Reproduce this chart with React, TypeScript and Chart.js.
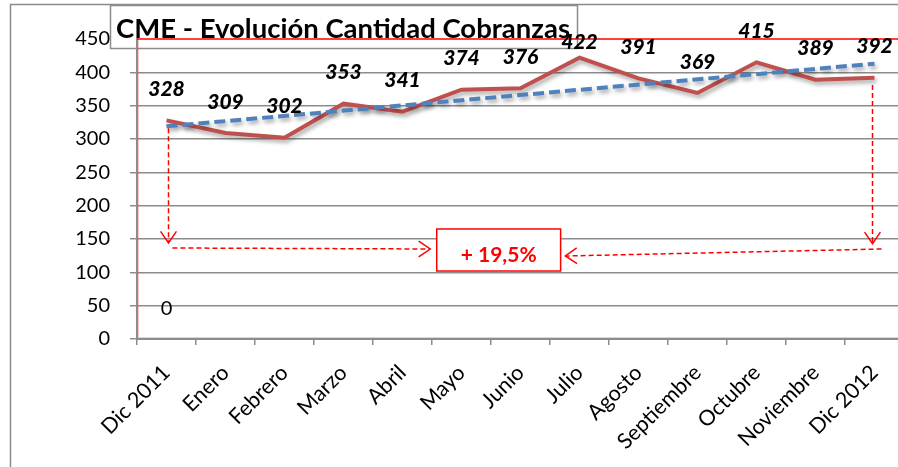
import React, { useEffect, useRef } from "react";
import { Chart, registerables } from "chart.js";
Chart.register(...registerables);

const categories = ["Dic 2011", "Enero", "Febrero", "Marzo", "Abril", "Mayo", "Junio", "Julio", "Agosto", "Septiembre", "Octubre", "Noviembre", "Dic 2012"];
const cobranzas = [328, 309, 302, 353, 341, 374, 376, 422, 391, 369, 415, 389, 392];
const tendencia = [319, null, null, null, null, null, null, null, null, null, null, null, 413];
const yTicks = [0, 50, 100, 150, 200, 250, 300, 350, 400, 450];
const titleText = "CME - Evolución Cantidad Cobranzas";
const growthLabel = "+ 19,5%";
const zeroLabel = "0";

const W = 915;
const H = 467;
const FONT = "Lato, 'Open Sans', sans-serif";
const GRAY = "#8c8c8c";
const RED = "#ff0000";

function arrow(ctx: CanvasRenderingContext2D, x1: number, y1: number, x2: number, y2: number) {
  ctx.save();
  ctx.strokeStyle = RED;
  ctx.lineWidth = 1.5;
  ctx.setLineDash([5, 3]);
  ctx.beginPath();
  ctx.moveTo(x1, y1);
  ctx.lineTo(x2, y2);
  ctx.stroke();
  ctx.setLineDash([]);
  const a = Math.atan2(y2 - y1, x2 - x1);
  const len = 14;
  const spread = 0.6;
  ctx.beginPath();
  ctx.moveTo(x2 - len * Math.cos(a - spread), y2 - len * Math.sin(a - spread));
  ctx.lineTo(x2, y2);
  ctx.lineTo(x2 - len * Math.cos(a + spread), y2 - len * Math.sin(a + spread));
  ctx.stroke();
  ctx.restore();
}

const decor = {
  id: "decor",
  beforeDraw(chart: any) {
    const ctx = chart.ctx as CanvasRenderingContext2D;
    ctx.save();
    ctx.fillStyle = "#fff";
    ctx.fillRect(0, 0, W, H);
    ctx.strokeStyle = GRAY;
    ctx.lineWidth = 1.5;
    ctx.strokeRect(10.5, 4.5, W + 20, H + 20);
    ctx.fillStyle = "#fff";
    ctx.fillRect(110.5, 5.5, 467, 43);
    ctx.strokeRect(110.5, 5.5, 467, 43);
    ctx.font = `bold 27.5px ${FONT}`;
    ctx.fillStyle = "#000";
    ctx.textAlign = "center";
    ctx.textBaseline = "alphabetic";
    ctx.fillText(titleText, 343, 38);
    ctx.restore();
  },
  beforeDatasetDraw(chart: any) {
    const ctx = chart.ctx as CanvasRenderingContext2D;
    ctx.save();
    ctx.shadowColor = "rgba(0,0,0,0.35)";
    ctx.shadowBlur = 4;
    ctx.shadowOffsetX = 2;
    ctx.shadowOffsetY = 3;
  },
  afterDatasetDraw(chart: any) {
    chart.ctx.restore();
  },
  afterDraw(chart: any) {
    const ctx = chart.ctx as CanvasRenderingContext2D;
    const { left, right, top, bottom } = chart.chartArea;
    const xs = chart.scales.x;
    const ys = chart.scales.y;
    ctx.save();
    // plot area border (red)
    ctx.strokeStyle = RED;
    ctx.lineWidth = 1.5;
    ctx.beginPath();
    ctx.moveTo(left, top);
    ctx.lineTo(right + 20, top);
    ctx.stroke();
    ctx.strokeStyle = "rgba(255,0,0,0.22)";
    ctx.lineWidth = 1;
    ctx.beginPath();
    ctx.moveTo(left + 1.5, top);
    ctx.lineTo(left + 1.5, bottom - 1.5);
    ctx.lineTo(right + 20, bottom - 1.5);
    ctx.stroke();

    // data labels
    ctx.fillStyle = "#000";
    ctx.font = `italic 900 21px ${FONT}`;
    ctx.textAlign = "center";
    ctx.textBaseline = "middle";
    cobranzas.forEach((v, i) => {
      const px = xs.getPixelForValue(i);
      const py = ys.getPixelForValue(v);
      const lift = i === 7 ? 15 : 31;
      ctx.fillText(String(v), px, py - lift);
    });

    // zero label
    ctx.font = `20px ${FONT}`;
    ctx.fillText(zeroLabel, xs.getPixelForValue(0), ys.getPixelForValue(46));

    // arrows
    const first = 0;
    const last = cobranzas.length - 1;
    const xf = xs.getPixelForValue(first) + 2;
    const xl = xs.getPixelForValue(last) - 2;
    arrow(ctx, xf, ys.getPixelForValue(316), xf, ys.getPixelForValue(144));
    arrow(ctx, xl, ys.getPixelForValue(381), xl, ys.getPixelForValue(143));
    const cw = xs.getPixelForValue(1) - xs.getPixelForValue(0);
    const x0 = xs.getPixelForValue(0);
    arrow(ctx, x0 + 0.1 * cw, ys.getPixelForValue(136.5), x0 + 4.47 * cw, ys.getPixelForValue(135));
    arrow(ctx, x0 + 12.12 * cw, ys.getPixelForValue(135), x0 + 6.76 * cw, ys.getPixelForValue(124.5));

    // growth box
    const bx1 = x0 + 4.58 * cw;
    const bx2 = x0 + 6.68 * cw;
    const by1 = ys.getPixelForValue(165);
    const by2 = ys.getPixelForValue(102);
    ctx.strokeStyle = RED;
    ctx.lineWidth = 1.5;
    ctx.fillStyle = "#fff";
    ctx.fillRect(bx1, by1, bx2 - bx1, by2 - by1);
    ctx.strokeRect(bx1, by1, bx2 - bx1, by2 - by1);
    ctx.fillStyle = RED;
    ctx.font = `bold 21px ${FONT}`;
    ctx.textAlign = "center";
    ctx.textBaseline = "middle";
    ctx.fillText(growthLabel, (bx1 + bx2) / 2, (by1 + by2) / 2 + 5);
    ctx.restore();
  },
};

export default function App() {
  const ref = useRef<HTMLCanvasElement>(null);
  useEffect(() => {
    if (!ref.current) return;
    const chart = new Chart(ref.current, {
      type: "line",
      data: {
        labels: categories,
        datasets: [
          {
            label: "Cobranzas",
            data: cobranzas,
            borderColor: "#c0504d",
            borderWidth: 4,
            pointRadius: 0,
            tension: 0,
            fill: false,
            order: 2,
          },
          {
            label: "Tendencia",
            data: tendencia as any,
            borderColor: "#4f81bd",
            borderWidth: 4,
            borderDash: [11, 5],
            pointRadius: 0,
            spanGaps: true,
            fill: false,
            order: 1,
          },
        ],
      },
      options: {
        responsive: false,
        animation: false,
        layout: { padding: { left: 0, top: 39, right: 11, bottom: 0 } },
        plugins: {
          legend: { display: false },
          tooltip: { enabled: false },
          title: { display: false },
        },
        scales: {
          x: {
            type: "category",
            offset: true,
            grid: { offset: true, drawOnChartArea: false, drawTicks: true, tickLength: 6, color: GRAY, lineWidth: 1.5 },
            border: { color: GRAY, width: 2 },
            ticks: { color: "#000", font: { family: FONT, size: 21.5 }, minRotation: 45, maxRotation: 45, autoSkip: false, padding: 15 },
            afterFit(s: any) {
              s.height = 128;
            },
          },
          y: {
            min: 0,
            max: 450,
            afterBuildTicks(s: any) {
              s.ticks = yTicks.map((v) => ({ value: v }));
            },
            ticks: { color: "#000", font: { family: FONT, size: 20 }, padding: 20 },
            grid: {
              color: (c: any) => (c.tick && c.tick.value === 450 ? "rgba(0,0,0,0)" : GRAY),
              lineWidth: 1.5,
              tickLength: 7,
            },
            border: { color: GRAY, width: 2 },
            afterFit(s: any) {
              s.width = 137;
            },
          },
        },
      },
      plugins: [decor],
    });
    return () => chart.destroy();
  }, []);
  return (
    <div style={{ position: "absolute", left: 0, top: 0, width: 898, height: 467, overflow: "hidden", background: "#fff" }}>
      <canvas ref={ref} width={W} height={H} style={{ display: "block", width: W, height: H }} />
    </div>
  );
}
